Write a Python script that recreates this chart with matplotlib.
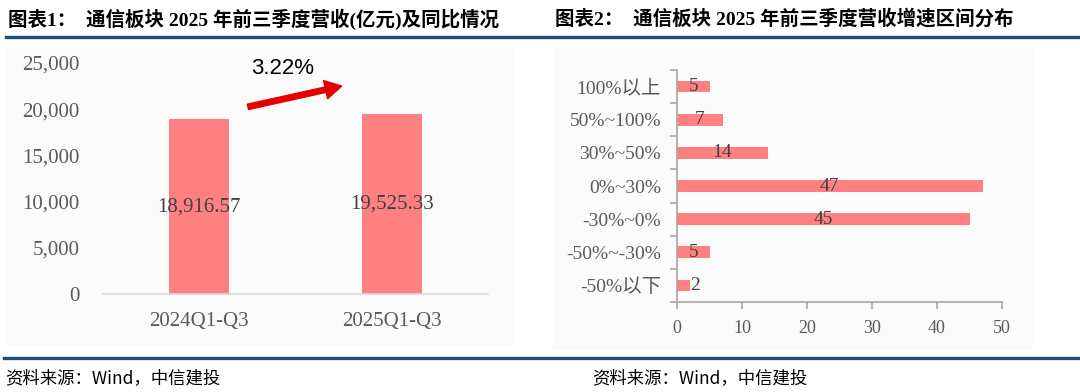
import matplotlib.pyplot as plt
import matplotlib.ticker as mticker
from matplotlib.patches import Rectangle
from matplotlib.lines import Line2D

plt.rcParams['font.family'] = ['Liberation Serif', 'Noto Sans CJK SC', 'DejaVu Sans']

# 图表1 数据
periods = ['2024Q1-Q3', '2025Q1-Q3']
revenue = [18916.57, 19525.33]
yoy_label = '3.22%'

# 图表2 数据
ranges = ['100%以上', '50%~100%', '30%~50%', '0%~30%', '-30%~0%', '-50%~-30%', '-50%以下']
counts = [5, 7, 14, 47, 45, 5, 2]

bar_color = '#FF8080'
tick_gray = '#595959'
label_gray = '#404040'
navy = '#1F4E79'

W, H = 1080, 392
fig = plt.figure(figsize=(W / 100, H / 100), dpi=100)
fig.patch.set_facecolor('white')


def fx(px):
    return px / W


def fy(py):
    return 1 - py / H


# 浅灰底板
fig.add_artist(Rectangle((fx(7), fy(346)), fx(508), 299 / H, transform=fig.transFigure,
                         facecolor='#FBFBFB', edgecolor='none', zorder=0))
fig.add_artist(Rectangle((fx(553), fy(350)), fx(480), 303 / H, transform=fig.transFigure,
                         facecolor='#FBFBFB', edgecolor='none', zorder=0))

# 标题 + 分隔线
title_font = ['Liberation Serif', 'Noto Sans CJK SC']
fig.text(fx(8), fy(19), '图表1：  通信板块 2025 年前三季度营收(亿元)及同比情况', fontsize=14,
         fontweight='bold', family=title_font, va='center', ha='left')
fig.text(fx(555), fy(19), '图表2：  通信板块 2025 年前三季度营收增速区间分布', fontsize=14,
         fontweight='bold', family=title_font, va='center', ha='left')
fig.add_artist(Line2D([fx(6), fx(1078)], [fy(36.5), fy(36.5)], transform=fig.transFigure,
                      color=navy, linewidth=2.4))
fig.add_artist(Line2D([fx(4), fx(1078)], [fy(357.5), fy(357.5)], transform=fig.transFigure,
                      color=navy, linewidth=2.4))

src_font = ['Noto Sans CJK SC', 'DejaVu Sans']
fig.text(fx(5), fy(378), '资料来源：Wind，中信建投', fontsize=12.5, style='italic',
         family=src_font, va='center', ha='left')
fig.text(fx(592), fy(378), '资料来源：Wind，中信建投', fontsize=12.5, style='italic',
         family=src_font, va='center', ha='left')

# --- 图表1: 营收柱状图 ---
ax1 = fig.add_axes([fx(103), fy(294), fx(385), 231 / H])
ax1.set_facecolor('none')
x1 = range(len(periods))
ax1.bar(x1, revenue, width=0.31, color=bar_color, zorder=2)
ax1.set_xlim(-0.5, 1.5)
ax1.set_ylim(0, 25000)
ax1.set_yticks(range(0, 25001, 5000))
ax1.yaxis.set_major_formatter(mticker.FuncFormatter(lambda v, p: f'{v:,.0f}'))
ax1.set_xticks(list(x1))
ax1.set_xticklabels(periods)
ax1.tick_params(axis='y', length=0, pad=17, labelsize=15, labelcolor=tick_gray)
ax1.tick_params(axis='x', length=0, pad=13, labelsize=15, labelcolor=tick_gray)
for s in ['top', 'right', 'left']:
    ax1.spines[s].set_visible(False)
ax1.spines['bottom'].set_color('#D9D9D9')
ax1.spines['bottom'].set_linewidth(1.2)
for xi, v in zip(x1, revenue):
    ax1.text(xi, v / 2, f'{v:,.2f}', ha='center', va='center', fontsize=15, color=label_gray, zorder=3)

# 同比箭头
ax1.annotate('', xy=(0.74, 22500), xytext=(0.253, 20250),
             arrowprops=dict(arrowstyle='simple,head_length=0.85,head_width=0.95,tail_width=0.28',
                             color='#E50000', shrinkA=0, shrinkB=0, mutation_scale=14))
ax1.text(0.435, 24450, yoy_label, ha='center', va='center', fontsize=16,
         family='Liberation Sans', color='black')

# --- 图表2: 增速区间分布 ---
ax2 = fig.add_axes([fx(677), fy(302), fx(325), 232 / H])
ax2.set_facecolor('none')
y2 = list(range(len(ranges)))
ax2.barh(y2, counts, height=0.35, color=bar_color, zorder=2)
ax2.set_xlim(0, 50)
ax2.set_ylim(len(ranges) - 0.5, -0.5)
ax2.set_yticks(y2)
ax2.set_yticklabels(ranges)
ax2.set_yticks([i - 0.5 for i in range(len(ranges) + 1)], minor=True)
ax2.set_xticks(range(0, 51, 10))
ax2.tick_params(axis='y', which='major', length=0, pad=11.5, labelsize=14, labelcolor=tick_gray)
ax2.tick_params(axis='y', which='minor', length=5, width=1.2, color='#A6A6A6', direction='out')
ax2.tick_params(axis='x', length=5, width=1.2, color='#A6A6A6', pad=8, labelsize=13,
                labelcolor=tick_gray)
for s in ['top', 'right']:
    ax2.spines[s].set_visible(False)
for s in ['left', 'bottom']:
    ax2.spines[s].set_color('#A6A6A6')
    ax2.spines[s].set_linewidth(1.2)
for yi, v in zip(y2, counts):
    if v >= 4:
        ax2.text(v / 2, yi, str(v), ha='center', va='center', fontsize=14, color=label_gray, zorder=3)
    else:
        ax2.text(v, yi, str(v), ha='left', va='center', fontsize=14, color=label_gray, zorder=3)

fig.savefig('out.png', dpi=100, facecolor='white')
